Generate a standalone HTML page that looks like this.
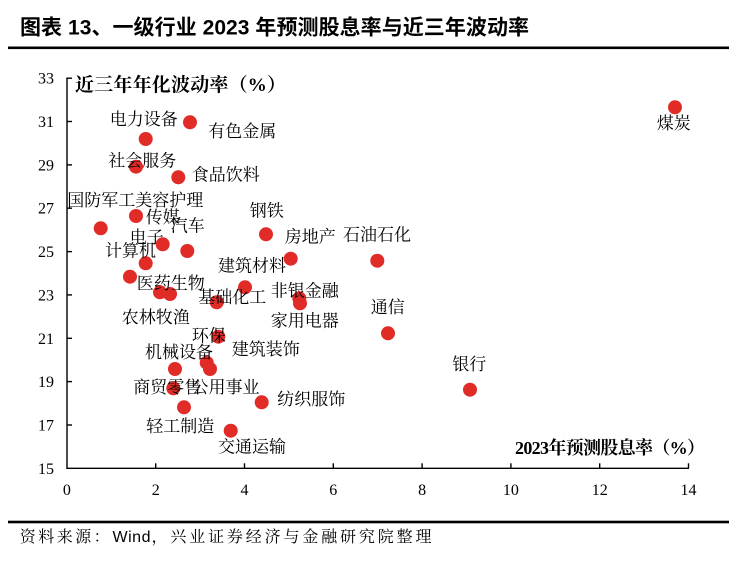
<!DOCTYPE html>
<html><head><meta charset="utf-8"><style>
html,body{margin:0;padding:0;background:#fff;}
svg{display:block;}
.lb{font-family:"Liberation Serif","Noto Serif CJK SC",serif;font-size:17px;fill:#000;}
.tk{font-family:"Liberation Serif",serif;font-size:16px;fill:#000;}
</style></head><body>
<svg width="750" height="564" viewBox="0 0 750 564" xmlns="http://www.w3.org/2000/svg">
<rect width="750" height="564" fill="#fff"/>
<text x="20" y="34.5" font-family="'Liberation Sans','Noto Sans CJK SC',sans-serif" font-weight="bold" font-size="21" textLength="509" lengthAdjust="spacing" fill="#000">图表 13、一级行业 2023 年预测股息率与近三年波动率</text>
<rect x="8" y="46.5" width="721" height="2.6" fill="#000"/>

<!-- axes -->
<g stroke="#000" stroke-width="1.4" fill="none">
<line x1="67" y1="77.5" x2="67" y2="468.3"/>
<line x1="66.3" y1="468.3" x2="689" y2="468.3"/>
<line x1="67" y1="78.2" x2="72" y2="78.2"/>
<line x1="67" y1="121.5" x2="72" y2="121.5"/>
<line x1="67" y1="164.9" x2="72" y2="164.9"/>
<line x1="67" y1="208.2" x2="72" y2="208.2"/>
<line x1="67" y1="251.6" x2="72" y2="251.6"/>
<line x1="67" y1="294.9" x2="72" y2="294.9"/>
<line x1="67" y1="338.3" x2="72" y2="338.3"/>
<line x1="67" y1="381.6" x2="72" y2="381.6"/>
<line x1="67" y1="425" x2="72" y2="425"/>
<line x1="155.7" y1="463.3" x2="155.7" y2="468.3"/>
<line x1="244.5" y1="463.3" x2="244.5" y2="468.3"/>
<line x1="333.3" y1="463.3" x2="333.3" y2="468.3"/>
<line x1="422.1" y1="463.3" x2="422.1" y2="468.3"/>
<line x1="510.9" y1="463.3" x2="510.9" y2="468.3"/>
<line x1="599.7" y1="463.3" x2="599.7" y2="468.3"/>
<line x1="688.5" y1="463.3" x2="688.5" y2="468.3"/>
</g>

<!-- y tick labels -->
<g class="tk" text-anchor="end">
<text x="54" y="83.7">33</text>
<text x="54" y="127">31</text>
<text x="54" y="170.4">29</text>
<text x="54" y="213.7">27</text>
<text x="54" y="257.1">25</text>
<text x="54" y="300.4">23</text>
<text x="54" y="343.8">21</text>
<text x="54" y="387.1">19</text>
<text x="54" y="430.5">17</text>
<text x="54" y="473.8">15</text>
</g>
<!-- x tick labels -->
<g class="tk" text-anchor="middle">
<text x="66.9" y="495">0</text>
<text x="155.7" y="495">2</text>
<text x="244.5" y="495">4</text>
<text x="333.3" y="495">6</text>
<text x="422.1" y="495">8</text>
<text x="510.9" y="495">10</text>
<text x="599.7" y="495">12</text>
<text x="688.5" y="495">14</text>
</g>

<!-- axis titles -->
<text x="75" y="90.8" font-family="'Liberation Serif','Noto Serif CJK SC',serif" font-weight="bold" font-size="19" textLength="211" lengthAdjust="spacing" fill="#000">近三年年化波动率（%）</text>
<text x="515" y="454" font-family="'Liberation Serif','Noto Serif CJK SC',serif" font-weight="bold" font-size="18" textLength="190" lengthAdjust="spacing" fill="#000">2023年预测股息率（%）</text>

<!-- dots -->
<g fill="#E02B27">
<circle cx="675" cy="107.3" r="7"/>
<circle cx="190" cy="122.3" r="7"/>
<circle cx="145.7" cy="139" r="7"/>
<circle cx="136" cy="166.7" r="7"/>
<circle cx="178.3" cy="177.3" r="7"/>
<circle cx="100.7" cy="228.3" r="7"/>
<circle cx="136" cy="216" r="7"/>
<circle cx="162.7" cy="244.3" r="7"/>
<circle cx="187.3" cy="251" r="7"/>
<circle cx="145.7" cy="263.3" r="7"/>
<circle cx="266" cy="234.3" r="7"/>
<circle cx="290.7" cy="258.7" r="7"/>
<circle cx="377.3" cy="260.7" r="7"/>
<circle cx="130" cy="276.7" r="7"/>
<circle cx="160" cy="292.3" r="7"/>
<circle cx="170" cy="294" r="7"/>
<circle cx="245" cy="287.3" r="7"/>
<circle cx="216.7" cy="302.3" r="7"/>
<circle cx="299.3" cy="298.3" r="7"/>
<circle cx="300" cy="303.3" r="7"/>
<circle cx="388" cy="333.3" r="7"/>
<circle cx="218.3" cy="336.7" r="7"/>
<circle cx="206.7" cy="362.7" r="7"/>
<circle cx="210" cy="369" r="7"/>
<circle cx="175" cy="369" r="7"/>
<circle cx="173.3" cy="388.3" r="7"/>
<circle cx="184" cy="407.3" r="7"/>
<circle cx="261.7" cy="402.3" r="7"/>
<circle cx="230.7" cy="430.7" r="7"/>
<circle cx="470" cy="389.7" r="7"/>
</g>

<!-- labels -->
<g class="lb">
<text x="109.7" y="124.8" textLength="68" lengthAdjust="spacing">电力设备</text>
<text x="208.3" y="137.2" textLength="68" lengthAdjust="spacing">有色金属</text>
<text x="108.3" y="166.5" textLength="68" lengthAdjust="spacing">社会服务</text>
<text x="191.7" y="180.5" textLength="68" lengthAdjust="spacing">食品饮料</text>
<text x="67.3" y="205.8" textLength="136" lengthAdjust="spacing">国防军工美容护理</text>
<text x="145.7" y="223.2" textLength="34" lengthAdjust="spacing">传媒</text>
<text x="170.7" y="231.5" textLength="34" lengthAdjust="spacing">汽车</text>
<text x="129.7" y="243.2" textLength="34" lengthAdjust="spacing">电子</text>
<text x="105" y="256.5" textLength="51" lengthAdjust="spacing">计算机</text>
<text x="249.7" y="216.5" textLength="34" lengthAdjust="spacing">钢铁</text>
<text x="284.7" y="242.5" textLength="51" lengthAdjust="spacing">房地产</text>
<text x="343" y="240.5" textLength="68" lengthAdjust="spacing">石油石化</text>
<text x="218" y="271.5" textLength="68" lengthAdjust="spacing">建筑材料</text>
<text x="136.7" y="288.8" textLength="68" lengthAdjust="spacing">医药生物</text>
<text x="198.3" y="303.2" textLength="68" lengthAdjust="spacing">基础化工</text>
<text x="270.7" y="296.5" textLength="68" lengthAdjust="spacing">非银金融</text>
<text x="270.7" y="326.5" textLength="68" lengthAdjust="spacing">家用电器</text>
<text x="121.7" y="323.2" textLength="68" lengthAdjust="spacing">农林牧渔</text>
<text x="191.7" y="341.5" textLength="34" lengthAdjust="spacing">环保</text>
<text x="231.7" y="354.8" textLength="68" lengthAdjust="spacing">建筑装饰</text>
<text x="145" y="358.2" textLength="68" lengthAdjust="spacing">机械设备</text>
<text x="133.3" y="393.2" textLength="68" lengthAdjust="spacing">商贸零售</text>
<text x="191.5" y="393.2" textLength="68" lengthAdjust="spacing">公用事业</text>
<text x="277.3" y="404.8" textLength="68" lengthAdjust="spacing">纺织服饰</text>
<text x="146.3" y="432.2" textLength="68" lengthAdjust="spacing">轻工制造</text>
<text x="218" y="452.5" textLength="68" lengthAdjust="spacing">交通运输</text>
<text x="370.7" y="313.2" textLength="34" lengthAdjust="spacing">通信</text>
<text x="452.3" y="369.8" textLength="34" lengthAdjust="spacing">银行</text>
<text x="656.7" y="129.2" textLength="34" lengthAdjust="spacing">煤炭</text>
</g>

<!-- footer -->
<rect x="8" y="520.7" width="721" height="2.6" fill="#000"/>
<text x="19.7" y="541.8" font-family="'Liberation Serif','Noto Serif CJK SC',serif" font-size="16" textLength="90" lengthAdjust="spacing" fill="#000">资料来源：</text>
<text x="112.5" y="542" font-family="'Liberation Sans',sans-serif" font-size="16" textLength="38" lengthAdjust="spacing" fill="#000">Wind</text>
<text x="151.5" y="541.8" font-family="'Liberation Serif','Noto Serif CJK SC',serif" font-size="16" textLength="280" lengthAdjust="spacing" fill="#000">，兴业证券经济与金融研究院整理</text>
</svg>
</body></html>
